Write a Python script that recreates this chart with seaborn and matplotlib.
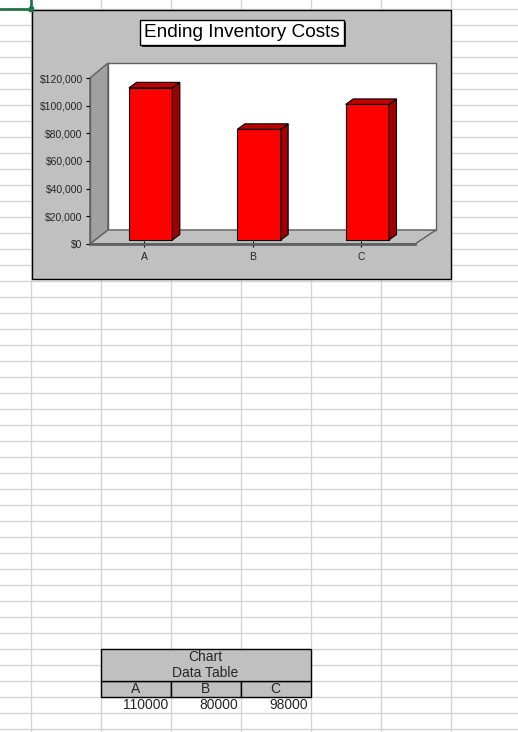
import pandas as pd
import seaborn as sns
import matplotlib.pyplot as plt
from matplotlib.patches import Rectangle, Polygon
from matplotlib.transforms import Affine2D, IdentityTransform
from matplotlib.ticker import StrMethodFormatter

# datos del grafico
categorias = ['A', 'B', 'C']
costos = [110000, 80000, 98000]
titulo = 'Ending Inventory Costs'
titulo_tabla = 'Chart\nData Table'
y_ticks = [0, 20000, 40000, 60000, 80000, 100000, 120000]

df = pd.DataFrame({'categoria': categorias, 'costo': costos})

sns.set_theme(style='white')
plt.rcParams['font.family'] = ['Liberation Sans', 'DejaVu Sans']

W, H = 518, 732
fig = plt.figure(figsize=(W / 100, H / 100), dpi=100)
fig.patch.set_facecolor('white')

# hoja de calculo de fondo, en pixeles
hoja = fig.add_axes([0, 0, 1, 1])
hoja.set_xlim(0, W)
hoja.set_ylim(H, 0)
hoja.axis('off')

gris_grilla = '#d4d4d4'
for y in range(8, H, 16):
    hoja.plot([0, W], [y + 0.5, y + 0.5], color=gris_grilla, lw=1, zorder=1)
for x in range(30, W, 70):
    hoja.plot([x + 0.5, x + 0.5], [0, H], color=gris_grilla, lw=1, zorder=1)

# celda seleccionada (esquina verde)
verde = '#217346'
hoja.plot([0, 30.5], [8.5, 8.5], color=verde, lw=2, zorder=3)
hoja.plot([30.5, 30.5], [0, 8.5], color=verde, lw=2, zorder=3)
hoja.add_patch(Rectangle((28.5, 6.5), 4, 4, fc=verde, ec=verde, zorder=4))

# marco del grafico
hoja.add_patch(Rectangle((31.5, 9.5), 419, 269, fc='#c0c0c0', ec='black', lw=1, zorder=2))

# titulo con sombra
hoja.add_patch(Rectangle((141.5, 21.5), 204, 25, fc='#202020', ec='none', zorder=5))
hoja.add_patch(Rectangle((139.5, 19.5), 204, 25, fc='white', ec='black', lw=1, zorder=6))
hoja.text(241.5, 32.5, titulo, fontsize=13.7, ha='center', va='center', color='black', zorder=7)

# paredes 3D
borde = '#606060'
hoja.add_patch(Polygon([(90, 78), (108, 63), (108, 230), (90, 244)],
                       fc='#a0a0a0', ec=borde, lw=1, zorder=3))
hoja.add_patch(Polygon([(108, 63), (436, 63), (436, 230), (108, 230)],
                       fc='white', ec=borde, lw=1, zorder=3))
hoja.add_patch(Polygon([(90, 244), (108, 230), (436, 230), (415, 244)],
                       fc='#c0c0c0', ec=borde, lw=1, zorder=3))

# tabla de datos
for i, cat in enumerate(categorias):
    x0 = 100.5 + 70 * i
    hoja.add_patch(Rectangle((x0, 680.5), 70, 16, fc='#c0c0c0', ec='black', lw=1, zorder=3))
    hoja.text(x0 + 35, 689, cat, fontsize=10, ha='center', va='center', zorder=4)
    hoja.text(x0 + 68, 705, str(costos[i]), fontsize=10, ha='right', va='center', zorder=4)
hoja.add_patch(Rectangle((100.5, 648.5), 210, 32, fc='#c0c0c0', ec='black', lw=1, zorder=3))
hoja.text(205.5, 665, titulo_tabla, fontsize=10, ha='center', va='center',
          linespacing=1.15, zorder=4)

# grafico de barras (plano frontal)
ax = fig.add_axes([90 / W, (H - 244) / H, 325 / W, (244 - 78) / H])
ax.set_facecolor('none')
sns.barplot(data=df, x='categoria', y='costo', color='#ff0000', width=0.4,
            edgecolor='black', linewidth=0.8, saturation=1, ax=ax)
ax.set_xlim(-0.5, 2.5)
ax.set_ylim(0, 120000)
ax.set_yticks(y_ticks)
ax.yaxis.set_major_formatter(StrMethodFormatter('${x:,.0f}'))
ax.set_xlabel('')
ax.set_ylabel('')
ax.tick_params(axis='y', direction='out', length=3, width=0.8, color='black',
               labelsize=7.5, pad=2.2, left=True)
ax.tick_params(axis='x', direction='inout', length=4, width=0.8, color='black',
               labelsize=7.5, pad=4, bottom=True)
for s in ['top', 'right']:
    ax.spines[s].set_visible(False)
ax.spines['left'].set_color(borde)
ax.spines['left'].set_linewidth(1)
ax.spines['bottom'].set_color(borde)
ax.spines['bottom'].set_linewidth(2)

# efecto 3D de las barras
fdx, fdy = 6.5, 4
ddx, ddy = 7.5, 5.5
for p in list(ax.patches):
    x0, y0 = p.get_x(), p.get_y()
    X0, Y0 = ax.transData.transform((x0, y0))
    X1, Y1 = ax.transData.transform((x0 + p.get_width(), y0 + p.get_height()))
    p.set_transform(ax.transData + Affine2D().translate(fdx, fdy))
    p.set_clip_on(False)
    X0, X1, Y0, Y1 = X0 + fdx, X1 + fdx, Y0 + fdy, Y1 + fdy
    lado = Polygon([(X1, Y0), (X1 + ddx, Y0 + ddy), (X1 + ddx, Y1 + ddy), (X1, Y1)],
                   fc='#a00000', ec='black', lw=0.8, transform=IdentityTransform(), clip_on=False)
    tapa = Polygon([(X0, Y1), (X0 + ddx, Y1 + ddy), (X1 + ddx, Y1 + ddy), (X1, Y1)],
                   fc='#c00000', ec='black', lw=0.8, transform=IdentityTransform(), clip_on=False)
    ax.add_artist(lado)
    ax.add_artist(tapa)

fig.savefig('out.png', dpi=100)
